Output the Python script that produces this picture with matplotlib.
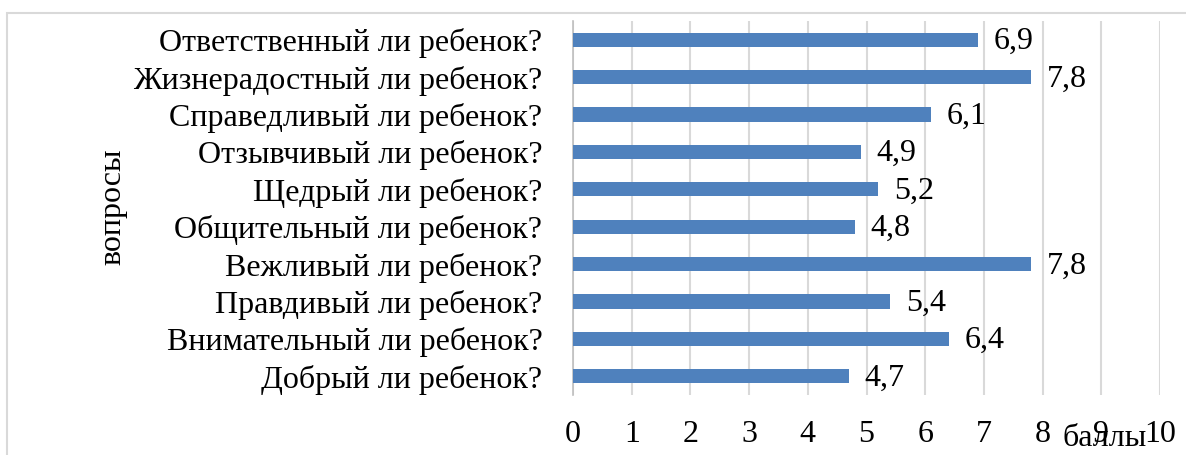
import matplotlib
matplotlib.use("Agg")
import matplotlib.pyplot as plt
from matplotlib.patches import Rectangle

questions = [
    "Добрый ли ребенок?",
    "Внимательный ли ребенок?",
    "Правдивый ли ребенок?",
    "Вежливый ли ребенок?",
    "Общительный ли ребенок?",
    "Щедрый ли ребенок?",
    "Отзывчивый ли ребенок?",
    "Справедливый ли ребенок?",
    "Жизнерадостный ли ребенок?",
    "Ответственный ли ребенок?",
]
scores = [4.7, 6.4, 5.4, 7.8, 4.8, 5.2, 4.9, 6.1, 7.8, 6.9]
x_ticks = list(range(0, 11))

plt.rcParams["font.family"] = ["Liberation Serif", "DejaVu Serif"]

W, H = 1186, 455
fig = plt.figure(figsize=(W / 100, H / 100), dpi=100)

# light frame around the chart area
fig.patches.append(Rectangle((7 / W, -0.1), 1.2, 1 - 13 / H + 0.1,
                             transform=fig.transFigure, fill=False,
                             edgecolor="#D9D9D9", linewidth=1.5))

left, right, top, bottom = 573, 1160, 21, 395
ax = fig.add_axes([left / W, 1 - bottom / H, (right - left) / W, (bottom - top) / H])

y = list(range(len(questions)))
ax.barh(y, scores, height=0.38, color="#4F81BD", zorder=3)
for yi, v in zip(y, scores):
    ax.text(v + 0.27, yi - 0.05, f"{v:.1f}".replace(".", ","), va="center", ha="left",
            fontsize=23, color="black")

ax.set_xlim(0, 10)
ax.set_ylim(-0.5, len(questions) - 0.5)
ax.set_xticks(x_ticks)
ax.set_xticklabels([str(t) for t in x_ticks])
ax.set_yticks(y)
ax.set_yticklabels(questions)
ax.tick_params(axis="both", length=0, labelsize=23)
ax.tick_params(axis="y", pad=22)
ax.tick_params(axis="x", pad=18)

ax.grid(axis="x", color="#D9D9D9", linewidth=1.5, zorder=0)
for s in ["top", "right", "bottom"]:
    ax.spines[s].set_visible(False)
ax.spines["left"].set_color("#BFBFBF")
ax.spines["left"].set_linewidth(1.2)

fig.text(1105 / W, 1 - 439 / H, "баллы", ha="center", va="center", fontsize=23)
fig.text(113 / W, 1 - 207 / H, "вопросы", ha="center", va="center",
         rotation=90, fontsize=23)

fig.savefig("out.png", dpi=100, facecolor="white")
